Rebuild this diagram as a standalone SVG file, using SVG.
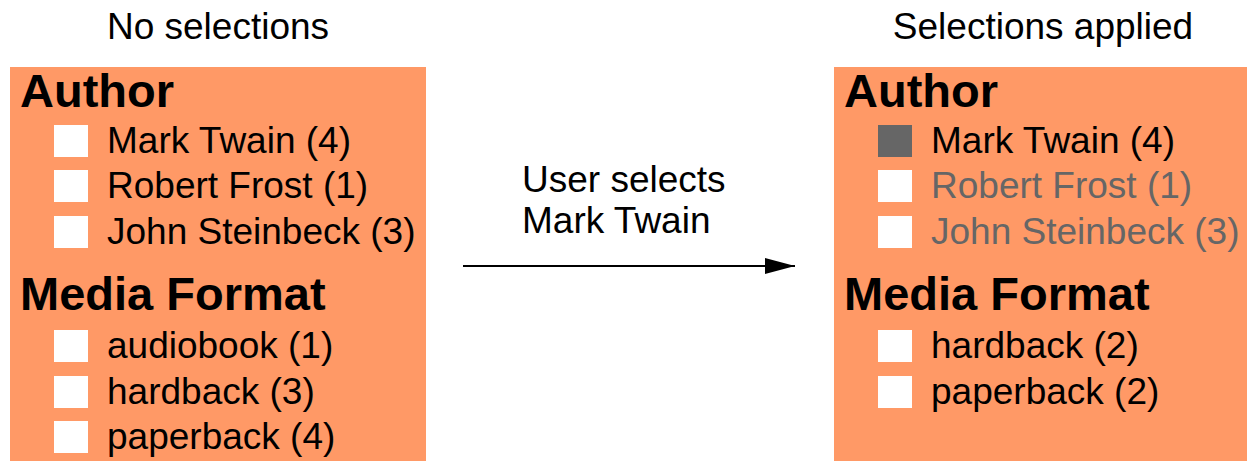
<svg xmlns="http://www.w3.org/2000/svg" width="1247" height="461" viewBox="0 0 1247 461">
  <style>
    text { font-family: "Liberation Sans", Arial, sans-serif; }
    .title { font-size: 37px; fill: #000; text-anchor: middle; }
    .panel { fill: #FF9966; }
    .head { font-size: 47px; font-weight: bold; fill: #000; }
    .item { font-size: 37px; fill: #000; }
    .item.dim { fill: #666666; }
    .box { fill: #FFFFFF; }
    .box.on { fill: #666666; }
    .note { font-size: 37px; fill: #000; }
    .link { stroke: #000; stroke-width: 2; fill: none; }
  </style>
  <defs>
    <marker id="arrowhead" markerWidth="30" markerHeight="16" refX="30" refY="8" orient="auto" markerUnits="userSpaceOnUse">
      <path d="M0,0 L30,8 L0,16 Z" fill="#000"/>
    </marker>
  </defs>

  <rect width="1247" height="461" fill="#FFFFFF"/>

  <!-- Facet panel before any choice -->
  <g id="panel-before">
    <text class="title" x="218" y="39">No selections</text>
    <rect class="panel" x="10" y="67" width="416" height="394"/>
    <text class="head" x="20" y="107">Author</text>
    <rect class="box" x="54" y="125" width="34" height="32"/>
    <text class="item" x="107" y="153">Mark Twain (4)</text>
    <rect class="box" x="54" y="170" width="34" height="32"/>
    <text class="item" x="107" y="198">Robert Frost (1)</text>
    <rect class="box" x="54" y="216" width="34" height="32"/>
    <text class="item" x="107" y="244">John Steinbeck (3)</text>
    <text class="head" x="20" y="310">Media Format</text>
    <rect class="box" x="54" y="330" width="34" height="32"/>
    <text class="item" x="107" y="358">audiobook (1)</text>
    <rect class="box" x="54" y="376" width="34" height="32"/>
    <text class="item" x="107" y="404">hardback (3)</text>
    <rect class="box" x="54" y="421" width="34" height="32"/>
    <text class="item" x="107" y="449">paperback (4)</text>
  </g>

  <!-- Facet panel after the author is chosen -->
  <g id="panel-after">
    <text class="title" x="1043" y="39">Selections applied</text>
    <rect class="panel" x="834" y="67" width="413" height="394"/>
    <text class="head" x="844" y="107">Author</text>
    <rect class="box on" x="878" y="125" width="34" height="32"/>
    <text class="item" x="931" y="153">Mark Twain (4)</text>
    <rect class="box" x="878" y="170" width="34" height="32"/>
    <text class="item dim" x="931" y="198">Robert Frost (1)</text>
    <rect class="box" x="878" y="216" width="34" height="32"/>
    <text class="item dim" x="931" y="244">John Steinbeck (3)</text>
    <text class="head" x="844" y="310">Media Format</text>
    <rect class="box" x="878" y="330" width="34" height="32"/>
    <text class="item" x="931" y="358">hardback (2)</text>
    <rect class="box" x="878" y="376" width="34" height="32"/>
    <text class="item" x="931" y="404">paperback (2)</text>
  </g>

  <!-- Transition arrow and its caption -->
  <g id="connectors">
    <line class="link" x1="463" y1="266" x2="795" y2="266" marker-end="url(#arrowhead)"/>
    <text class="note" x="522" y="192">User selects</text>
    <text class="note" x="522" y="233">Mark Twain</text>
  </g>
</svg>
